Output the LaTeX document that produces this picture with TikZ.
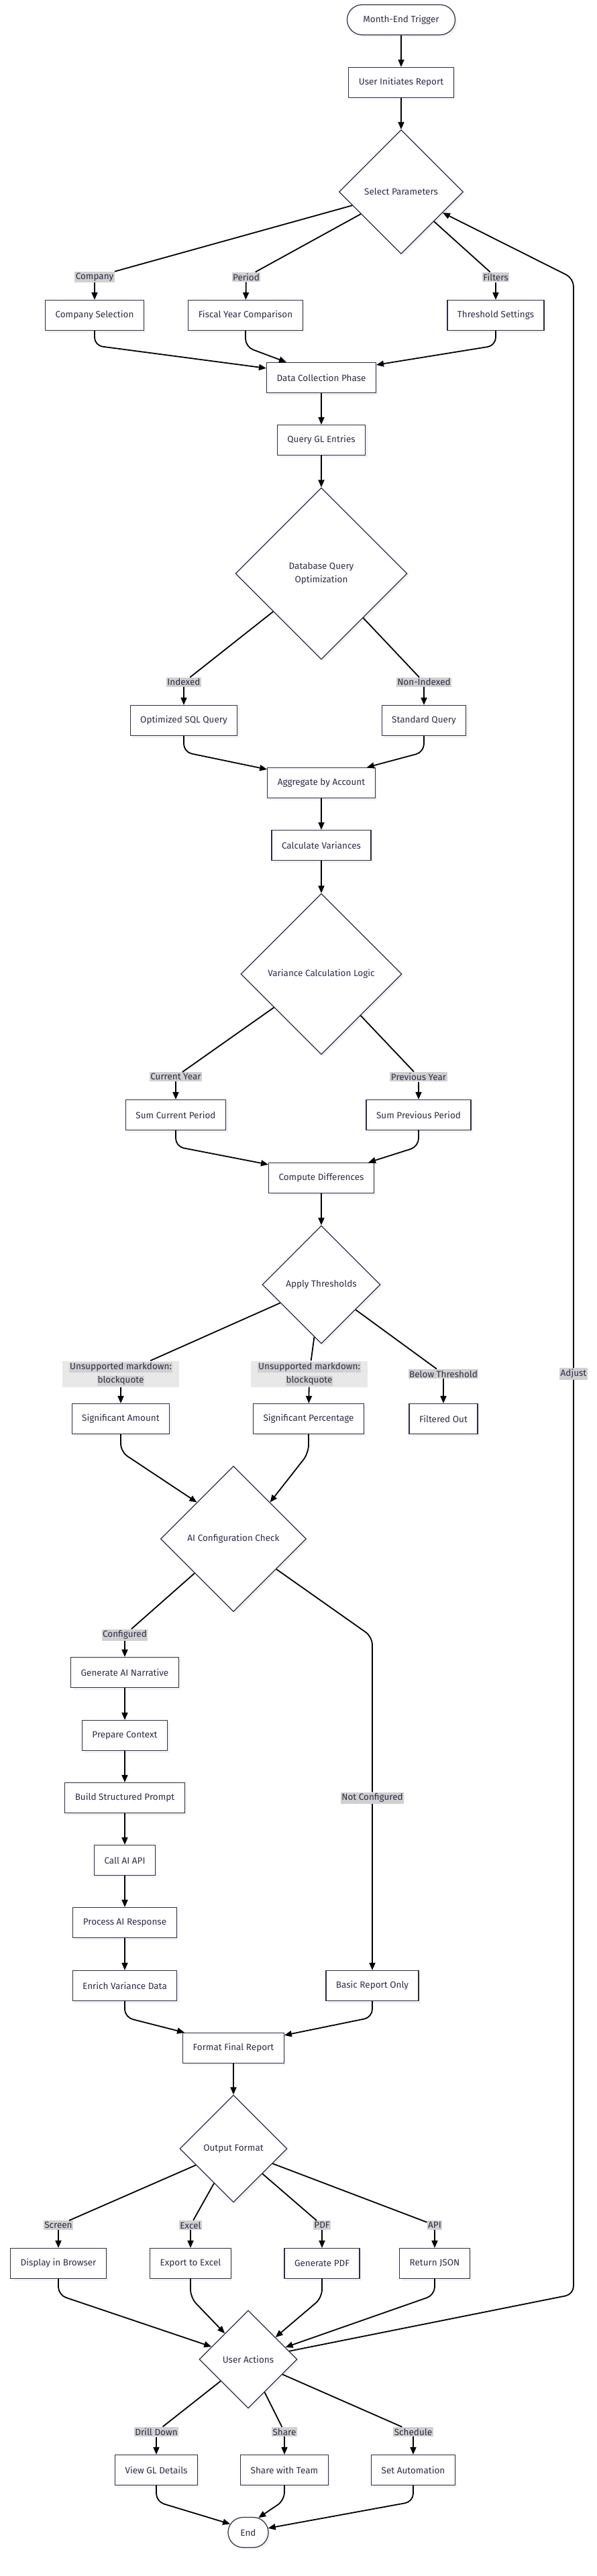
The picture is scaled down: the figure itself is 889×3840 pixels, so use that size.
\documentclass[tikz,border=0pt]{standalone}
\usepackage{fontspec}
\setmainfont{Fira Sans}
\usetikzlibrary{arrows.meta,shapes.geometric,shapes.misc,shadows}
\definecolor{ink}{RGB}{44,44,72}
\definecolor{lblgray}{RGB}{208,208,208}
\definecolor{mdgray}{RGB}{232,232,232}
\newcommand{\hl}[1]{{\setlength{\fboxsep}{1pt}\colorbox{lblgray}{#1}}}

\begin{document}
\begin{tikzpicture}[x=1pt,y=-1pt,
  font=\fontsize{13.5}{20}\selectfont,
  base/.style={draw=ink,line width=1.2pt,fill=white,text=ink,
    drop shadow={shadow xshift=3pt,shadow yshift=-3pt,fill=black!5,opacity=1}},
  box/.style={base,rectangle,minimum height=45pt,inner xsep=15pt},
  term/.style={base,rounded rectangle,minimum height=45pt,inner xsep=2pt},
  dec/.style={base,diamond,aspect=1,inner sep=0pt,minimum size=#1,align=center},
  lab/.style={fill=lblgray,text=ink,inner xsep=1.5pt,inner ysep=2pt},
  md/.style={fill=mdgray,text=ink,align=center,inner xsep=10pt,inner ysep=2pt},
  ln/.style={line width=1.8pt,rounded corners=12pt},
  fw/.style={ln,-{Triangle[length=11pt,width=9pt]}}]
  \fill[white] (0,0) rectangle (889,3840);
  \useasboundingbox (0,0) rectangle (889,3840);

  % start and parameters
  \node[term,minimum width=165pt] (trig) at (598,29.5) {Month-End Trigger};
  \node[box] (init) at (598,123) {User Initiates Report};
  \node[dec=185pt] (sp) at (598,286) {Select Parameters};
  \node[lab] (lcomp) at (141,413) {Company};
  \node[lab] (lper) at (367,413) {Period};
  \node[lab] (lfil) at (739,413) {Filters};
  \node[box] (cs) at (141,470) {Company Selection};
  \node[box] (fy) at (366,470) {Fiscal Year Comparison};
  \node[box] (ts) at (739,470) {Threshold Settings};

  % data collection
  \node[box] (dc) at (479,563) {Data Collection Phase};
  \node[box] (qgl) at (479,656) {Query GL Entries};
  \node[dec=256pt] (dbq) at (479,855) {Database Query\\Optimization};
  \node[lab] (lidx) at (274,1017) {Indexed};
  \node[lab] (lnon) at (632,1017) {Non-Indexed};
  \node[box] (osq) at (274,1074) {Optimized SQL Query};
  \node[box] (stq) at (632,1074) {Standard Query};
  \node[box] (agg) at (479,1167) {Aggregate by Account};
  \node[box] (cv) at (479,1260) {Calculate Variances};

  % variances
  \node[dec=240pt] (vcl) at (479,1452) {Variance Calculation Logic};
  \node[lab] (lcur) at (262,1605) {Current Year};
  \node[lab] (lprev) at (624,1605) {Previous Year};
  \node[box] (scp) at (262,1662) {Sum Current Period};
  \node[box] (spp) at (624,1662) {Sum Previous Period};
  \node[box] (cd) at (479,1756) {Compute Differences};
  \node[dec=176pt] (thr) at (479,1915) {Apply Thresholds};
  \node[md] (lsa) at (180,2048) {\hl{Unsupported markdown:}\\\hl{blockquote}};
  \node[md] (lsp) at (461,2048) {\hl{Unsupported markdown:}\\\hl{blockquote}};
  \node[lab] (lbt) at (661,2048) {Below Threshold};
  \node[lab] (ladj) at (855,2048) {Adjust};
  \node[box] (sa) at (180,2115) {Significant Amount};
  \node[box] (spc) at (460,2115) {Significant Percentage};
  \node[box] (fo) at (661,2115) {Filtered Out};

  % AI branch
  \node[dec=217pt] (aic) at (348,2294) {AI Configuration Check};
  \node[lab] (lconf) at (186,2437) {Configured};
  \node[box] (gan) at (186,2493) {Generate AI Narrative};
  \node[box] (pc) at (186,2587) {Prepare Context};
  \node[box] (bsp) at (186,2680) {Build Structured Prompt};
  \node[box] (cai) at (186,2773) {Call AI API};
  \node[box] (par) at (186,2866) {Process AI Response};
  \node[box] (evd) at (186,2960) {Enrich Variance Data};
  \node[lab] (lnc) at (555,2680) {Not Configured};
  \node[box] (bro) at (555,2960) {Basic Report Only};

  % output
  \node[box] (ffr) at (348,3053) {Format Final Report};
  \node[dec=160pt] (of) at (348,3203) {Output Format};
  \node[lab] (lscr) at (87,3317) {Screen};
  \node[lab] (lexc) at (284,3317) {Excel};
  \node[lab] (lpdf) at (480,3317) {PDF};
  \node[lab] (lapi) at (648,3317) {API};
  \node[box] (dib) at (87,3374) {Display in Browser};
  \node[box] (ete) at (284,3374) {Export to Excel};
  \node[box] (gpdf) at (480,3374) {Generate PDF};
  \node[box] (rj) at (648,3374) {Return JSON};
  \node[dec=146pt] (ua) at (370,3517) {User Actions};
  \node[lab] (ldrl) at (233,3625) {Drill Down};
  \node[lab] (lshr) at (424,3625) {Share};
  \node[lab] (lsch) at (616,3625) {Schedule};
  \node[box] (vgl) at (233,3682) {View GL Details};
  \node[box] (swt) at (424,3682) {Share with Team};
  \node[box] (sauto) at (616,3682) {Set Automation};
  \node[term,minimum width=64pt] (endn) at (370,3775) {End};

  % straight connectors
  \foreach \a/\b in {trig/init,init/sp,dc/qgl,qgl/dbq,agg/cv,cv/vcl,cd/thr,
    gan/pc,pc/bsp,bsp/cai,cai/par,par/evd,ffr/of}
    \draw[fw] (\a) -- (\b);

  % labelled branches
  \foreach \d/\l/\n in {sp/lcomp/cs,sp/lper/fy,sp/lfil/ts,dbq/lidx/osq,dbq/lnon/stq,
    vcl/lcur/scp,vcl/lprev/spp,thr/lsa/sa,thr/lsp/spc,thr/lbt/fo,aic/lconf/gan,
    of/lscr/dib,of/lexc/ete,of/lpdf/gpdf,of/lapi/rj,ua/ldrl/vgl,ua/lshr/swt,ua/lsch/sauto}
    {\draw[ln] (\d) -- (\l); \draw[fw] (\l) -- (\n);}

  % merges
  \draw[fw] (cs.south) -- ++(0,22) -- ([yshift=-9pt]dc.north west);
  \draw[fw] (fy.south) -- ++(0,24) -- ([xshift=30pt]dc.north west);
  \draw[fw] (ts.south) -- ++(0,22) -- ([yshift=-4pt]dc.north east);
  \draw[fw] (osq.south) -- ++(0,24) -- ([yshift=-3pt]agg.north west);
  \draw[fw] (stq.south) -- ++(0,24) -- ([xshift=-13pt]agg.north east);
  \draw[fw] (scp.south) -- ++(0,24) -- ([yshift=-3pt]cd.north west);
  \draw[fw] (spp.south) -- ++(0,24) -- ([xshift=-9pt]cd.north east);
  \draw[fw] (sa.south) -- ++(0,26) -- (aic.north west);
  \draw[fw] (spc.south) -- ++(0,28) -- (aic.north east);
  \draw[fw] (evd.south) -- ++(0,24) -- ([xshift=3pt]ffr.north west);
  \draw[fw] (bro.south) -- ++(0,24) -- ([yshift=-4pt]ffr.north east);
  \draw[fw] (dib.south) -- ++(0,24) -- (ua.161);
  \draw[fw] (ete.south) -- ++(0,28) -- (ua.132);
  \draw[fw] (gpdf.south) -- ++(0,28) -- (ua.39);
  \draw[fw] (rj.south) -- ++(0,24) -- (ua.18);
  \draw[fw] (vgl.south) -- ++(0,24) -- (endn.155);
  \draw[fw] (swt.south) -- ++(0,22) -- (endn.55);
  \draw[fw] (sauto.south) -- ++(0,24) -- (endn.12);

  % not configured and adjust loops
  \coordinate (ncb) at (555,2440);
  \draw[ln] (aic) -- (ncb) -- (lnc);
  \draw[fw] (lnc) -- (bro);
  \coordinate (adjb) at (855,3420);
  \coordinate (adjt) at (855,415);
  \draw[ln] (ua) -- (adjb) -- (ladj);
  \draw[fw] (ladj) -- (adjt) -- (sp);
\end{tikzpicture}
\end{document}
